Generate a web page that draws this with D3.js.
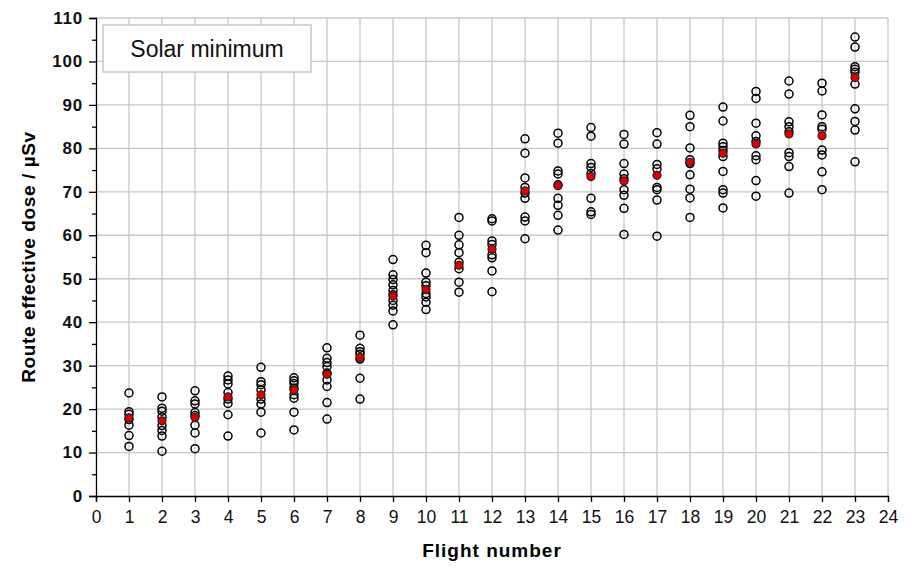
<!doctype html>
<html>
<head>
<meta charset="utf-8">
<script src="https://d3js.org/d3.v7.min.js"></script>
<style>
  body { margin: 0; background: #fff; }
  text { font-family: "Liberation Sans", Arial, sans-serif; }
</style>
</head>
<body>
<div id="chart"></div>
<script>
// flight numbers
var flights = d3.range(1, 24);

// individual route doses per flight (µSv)
var doses = [
  [23.7, 19.4, 18.8, 17.6, 16.3, 13.9, 11.4],
  [22.8, 20.2, 19.5, 18.2, 16.2, 15.1, 13.8, 10.3],
  [24.2, 21.9, 21.2, 19.2, 18.5, 16.3, 14.5, 10.9],
  [27.6, 26.7, 25.8, 23.8, 22.3, 21.3, 18.7, 13.8],
  [29.6, 26.3, 25.6, 24.4, 22.3, 21.2, 19.3, 14.5],
  [27.2, 26.5, 25.9, 24.8, 23.3, 22.5, 19.3, 15.2],
  [34.1, 31.7, 30.7, 29.8, 28.3, 26.7, 25.2, 21.5, 17.7],
  [37.0, 34.0, 33.2, 32.6, 31.5, 27.1, 22.3],
  [54.4, 50.9, 49.8, 48.6, 47.3, 46.3, 45.0, 43.9, 42.6, 39.4],
  [57.7, 56.0, 51.3, 49.2, 48.4, 46.6, 45.8, 44.6, 42.9],
  [64.1, 60.0, 57.8, 56.0, 53.8, 52.3, 49.2, 46.9],
  [63.8, 63.3, 58.7, 57.9, 55.5, 54.8, 51.8, 47.0],
  [82.2, 78.9, 73.2, 71.0, 69.7, 68.5, 64.2, 63.3, 59.2],
  [83.5, 81.2, 74.8, 74.1, 71.6, 68.5, 66.9, 64.6, 61.2],
  [84.8, 82.8, 76.5, 75.6, 74.2, 68.5, 65.4, 64.8],
  [83.2, 81.0, 76.5, 74.1, 73.0, 70.5, 69.2, 66.2, 60.2],
  [83.6, 81.0, 76.3, 75.3, 71.0, 70.5, 68.1, 59.8],
  [87.6, 85.0, 80.1, 77.4, 76.5, 73.9, 70.6, 68.6, 64.1],
  [89.5, 86.3, 81.2, 80.4, 79.5, 78.1, 74.7, 70.5, 69.7, 66.3],
  [93.1, 91.5, 85.8, 82.9, 81.6, 78.3, 77.4, 72.6, 69.0],
  [95.5, 92.5, 86.1, 85.0, 83.8, 79.0, 78.1, 75.8, 69.7],
  [95.0, 93.2, 87.7, 85.0, 84.4, 79.6, 78.5, 74.6, 70.5],
  [105.6, 103.3, 98.8, 98.2, 97.5, 94.8, 89.1, 86.2, 84.2, 76.9]
];

// mean dose per flight (red markers)
var means = [18.0, 17.3, 18.1, 22.8, 23.3, 24.4, 28.0, 31.9, 46.0, 47.5,
             53.1, 56.8, 70.2, 71.4, 73.5, 72.5, 73.8, 76.8, 78.9, 81.0,
             83.3, 82.9, 96.3];

var legendLabel = "Solar minimum";

var W = 921, H = 570;
var margin = {top: 18, right: 33, bottom: 74, left: 96};
var width = W - margin.left - margin.right,
    height = H - margin.top - margin.bottom;

var svg = d3.select("#chart").append("svg")
    .attr("width", W).attr("height", H);
var g = svg.append("g")
    .attr("transform", "translate(" + margin.left + "," + margin.top + ")");

var x = d3.scaleLinear().domain([0, 24]).range([0, width]);
var y = d3.scaleLinear().domain([0, 110]).range([height, 0]);

// grid
g.append("g").selectAll("line")
  .data(d3.range(1, 25))
  .enter().append("line")
    .attr("x1", d => x(d)).attr("x2", d => x(d))
    .attr("y1", 0).attr("y2", height)
    .attr("stroke", "#c8c8c8").attr("stroke-width", 1.3);
g.append("g").selectAll("line")
  .data(d3.range(10, 111, 10))
  .enter().append("line")
    .attr("x1", 0).attr("x2", width)
    .attr("y1", d => y(d)).attr("y2", d => y(d))
    .attr("stroke", "#c8c8c8").attr("stroke-width", 1.3);

// legend box
g.append("rect")
  .attr("x", 7).attr("y", 7).attr("width", 208).attr("height", 47)
  .attr("fill", "#fff").attr("stroke", "#c8c8c8").attr("stroke-width", 1.5);
g.append("text")
  .attr("x", 111).attr("y", 39)
  .attr("text-anchor", "middle")
  .attr("font-size", 23)
  .attr("fill", "#111")
  .text(legendLabel);

// axes
var xAxis = g.append("g")
  .attr("transform", "translate(0," + height + ")")
  .call(d3.axisBottom(x).ticks(24).tickSize(6).tickPadding(9).tickFormat(d3.format("d")));
xAxis.selectAll("text").attr("font-size", 17.5).attr("fill", "#111");

var yMinor = g.append("g")
  .call(d3.axisLeft(y).tickValues(d3.range(5, 110, 10)).tickSize(4).tickFormat(""));
yMinor.select(".domain").remove();

var yAxis = g.append("g")
  .call(d3.axisLeft(y).tickValues(d3.range(0, 111, 10)).tickSize(7).tickPadding(6));
yAxis.selectAll("text").attr("font-size", 17).attr("font-weight", "bold")
  .attr("letter-spacing", 0.8).attr("fill", "#111");

[xAxis, yAxis, yMinor].forEach(function(a) {
  a.selectAll("path, line").attr("stroke", "#000").attr("stroke-width", 1.3);
});

// individual doses
var pts = [];
flights.forEach(function(f, i) {
  doses[i].forEach(function(v) { pts.push({f: f, v: v}); });
});
g.append("g").selectAll("circle")
  .data(pts)
  .enter().append("circle")
    .attr("cx", d => x(d.f))
    .attr("cy", d => y(d.v))
    .attr("r", 4)
    .attr("fill", "none")
    .attr("stroke", "#000")
    .attr("stroke-width", 1.5);

// means
g.append("g").selectAll("circle")
  .data(means)
  .enter().append("circle")
    .attr("cx", (d, i) => x(flights[i]))
    .attr("cy", d => y(d))
    .attr("r", 4)
    .attr("fill", "#e00000")
    .attr("stroke", "#222")
    .attr("stroke-width", 1.2);

// axis titles
svg.append("text")
  .attr("x", margin.left + width / 2)
  .attr("y", 557)
  .attr("text-anchor", "middle")
  .attr("font-size", 19)
  .attr("font-weight", "bold")
  .attr("letter-spacing", 1)
  .text("Flight number");

svg.append("text")
  .attr("transform", "translate(35," + (margin.top + height / 2) + ") rotate(-90)")
  .attr("text-anchor", "middle")
  .attr("font-size", 19)
  .attr("font-weight", "bold")
  .attr("letter-spacing", 0.6)
  .text("Route effective dose / µSv");
</script>
</body>
</html>
